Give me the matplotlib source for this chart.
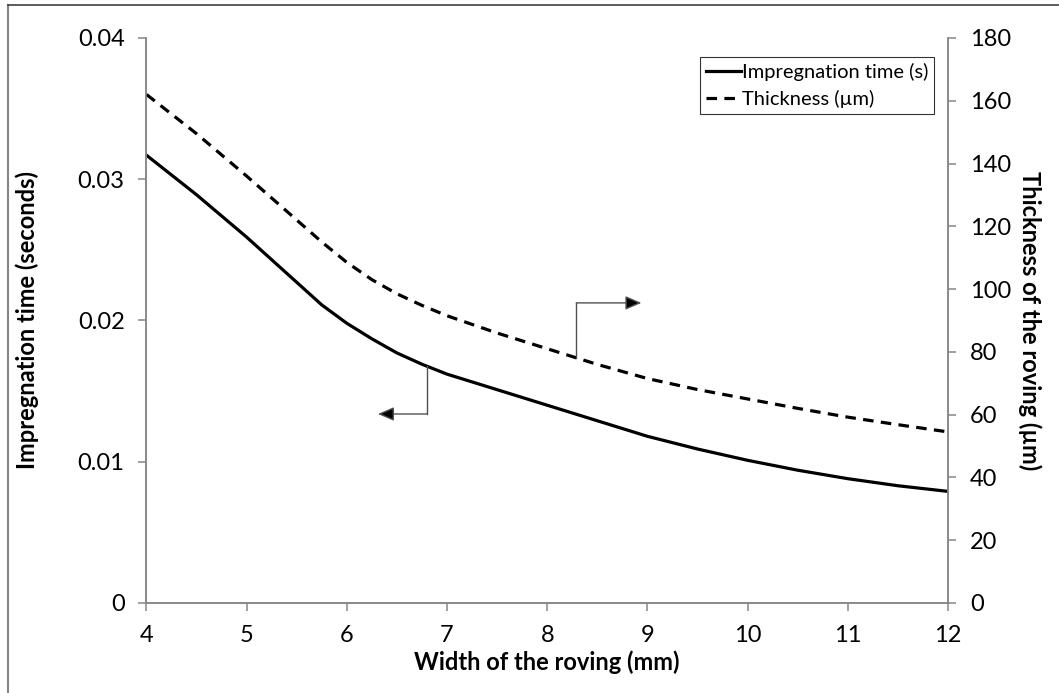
import numpy as np
import matplotlib
matplotlib.use("Agg")
import matplotlib.pyplot as plt
from matplotlib.lines import Line2D

plt.rcParams['font.family'] = ['Lato', 'DejaVu Sans']

# data
width = [4, 4.5, 5, 5.5, 5.75, 6, 6.25, 6.5, 6.75, 7, 7.5, 8, 8.5, 9,
         9.5, 10, 10.5, 11, 11.5, 12]
imp_time = [0.0317, 0.0289, 0.0259, 0.0227, 0.0211, 0.0198, 0.0187, 0.0177,
            0.0169, 0.0162, 0.0151, 0.0140, 0.0129, 0.0118, 0.0109, 0.0101,
            0.0094, 0.0088, 0.0083, 0.0079]
thickness = [162, 149.5, 136, 122, 115, 108.5, 103, 98.5, 94.8, 91.5, 86,
             81, 76, 71.5, 68, 65, 62, 59.2, 56.8, 54.5]

left_ticks = [0, 0.01, 0.02, 0.03, 0.04]
right_ticks = [0, 20, 40, 60, 80, 100, 120, 140, 160, 180]
x_ticks = [4, 5, 6, 7, 8, 9, 10, 11, 12]

grey = '#868686'

fig = plt.figure(figsize=(10.59, 6.93), dpi=100)
ax = fig.add_axes([0.1383, 0.1299, 0.7569, 0.8153])
ax2 = ax.twinx()

l1, = ax.plot(width, imp_time, color='black', lw=2.3, label='Impregnation time (s)')
l2, = ax2.plot(width, thickness, color='black', lw=2.3, dashes=(3.3, 2.3),
               label='Thickness (\u00b5m)')

ax.set_xlim(4, 12)
ax.set_ylim(0, 0.04)
ax2.set_ylim(0, 180)
ax.set_xticks(x_ticks)
ax.set_yticks(left_ticks)
ax.set_yticklabels(['0', '0.01', '0.02', '0.03', '0.04'])
ax2.set_yticks(right_ticks)

for a in (ax, ax2):
    for s in a.spines.values():
        s.set_color(grey)
        s.set_linewidth(1.1)
    a.spines['top'].set_visible(False)
    a.tick_params(direction='out', length=5.8, width=1.1, color=grey,
                  labelsize=17, pad=10, labelcolor='black')

ax.set_xlabel('Width of the roving (mm)', fontsize=17, fontweight='bold', labelpad=3)
ax.set_ylabel('Impregnation time (seconds)', fontsize=17, fontweight='bold', labelpad=28)
ax2.set_ylabel('Thickness of the roving (\u00b5m)', fontsize=17, fontweight='bold',
               rotation=270, labelpad=22)

# elbow arrows pointing to the matching axis
x1, y1_end, x1_tip = 6.8, 0.01338, 6.31
y1_start = np.interp(x1, width, imp_time)
ax.plot([x1, x1], [y1_start, y1_end], color='#505050', lw=1.0)
ax.annotate('', xy=(x1_tip, y1_end), xytext=(x1, y1_end),
            arrowprops=dict(arrowstyle='-|>,head_length=0.7,head_width=0.3',
                            color='#505050', fc='black', lw=1.0,
                            mutation_scale=14, shrinkA=0, shrinkB=0))

x2, y2_end, x2_tip = 8.29, 95.6, 8.94
y2_start = np.interp(x2, width, thickness)
ax2.plot([x2, x2], [y2_start, y2_end], color='#505050', lw=1.0)
ax2.annotate('', xy=(x2_tip, y2_end), xytext=(x2, y2_end),
             arrowprops=dict(arrowstyle='-|>,head_length=0.7,head_width=0.3',
                             color='#505050', fc='black', lw=1.0,
                             mutation_scale=14, shrinkA=0, shrinkB=0))

leg = ax2.legend(handles=[l1, l2], loc='upper left', bbox_to_anchor=(0.69, 0.967),
                 fontsize=14.5, frameon=True, fancybox=False, edgecolor='black',
                 handlelength=1.75, handletextpad=0.05, borderpad=0.3,
                 labelspacing=0.45, borderaxespad=0)
leg.get_frame().set_linewidth(0.8)

# outer chart border (only top and left visible in the reference)
fig.add_artist(Line2D([8 / 1059, 8 / 1059], [0, 1 - 5 / 693], color=grey, lw=1.5,
                      transform=fig.transFigure))
fig.add_artist(Line2D([8 / 1059, 1], [1 - 5 / 693, 1 - 5 / 693], color='#404040', lw=1.2,
                      transform=fig.transFigure))

fig.savefig('out.png', dpi=100)
